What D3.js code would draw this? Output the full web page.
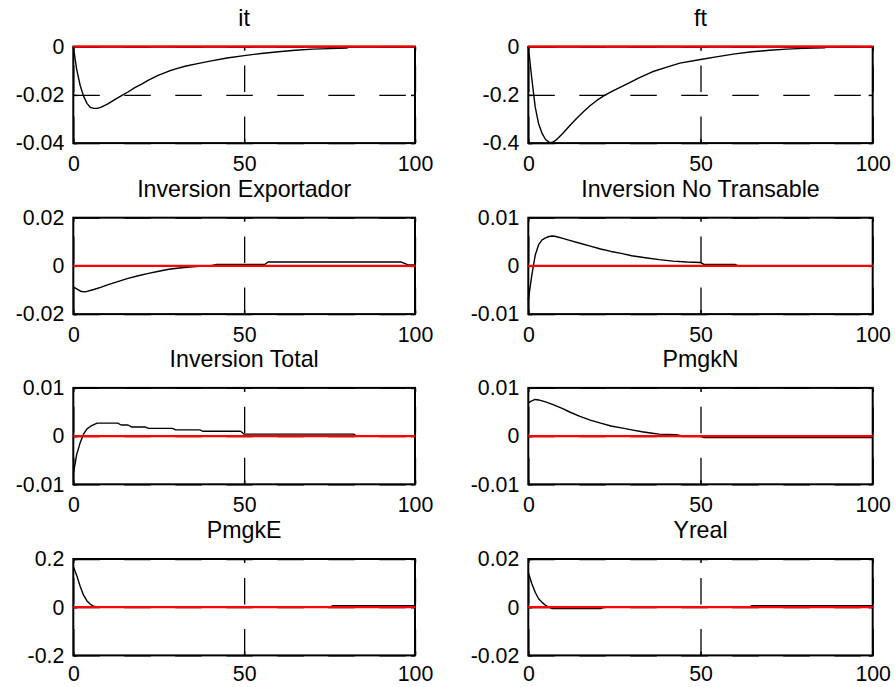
<!DOCTYPE html>
<html>
<head>
<meta charset="utf-8">
<script src="https://cdn.jsdelivr.net/npm/d3@7"></script>
<style>
  html, body { margin: 0; padding: 0; background: #ffffff; }
  svg { display: block; }
  text { font-family: "Liberation Sans", Arial, Helvetica, sans-serif; fill: #000; }
</style>
</head>
<body>
<svg id="chart" width="895" height="687"></svg>
<script>
// Impulse responses, [period, deviation]
const itSeries = [[0,0],[1,-0.0095],[2,-0.0160],[3,-0.0205],[4,-0.0235],[5,-0.0252],[6,-0.0256],[7,-0.0256],[8,-0.0252],[10,-0.0238],[12,-0.0221],[14,-0.0204],[16,-0.0188],[18,-0.0170],[20,-0.0155],[22,-0.0139],[25,-0.0118],[28,-0.0101],[30,-0.0092],[33,-0.0080],[36,-0.0071],[40,-0.0060],[45,-0.0047],[50,-0.0037],[55,-0.0028],[60,-0.0021],[65,-0.0015],[70,-0.0010],[75,-0.0008],[80,-0.0006],[81,0],[100,0]];
const ftSeries = [[0,0],[1,-0.13],[2,-0.25],[3,-0.32],[4,-0.36],[5,-0.385],[6,-0.396],[7,-0.397],[8,-0.388],[10,-0.360],[12,-0.328],[14,-0.298],[16,-0.270],[18,-0.244],[20,-0.222],[22,-0.203],[25,-0.180],[29,-0.152],[32,-0.130],[36,-0.104],[40,-0.086],[44,-0.068],[50,-0.053],[55,-0.041],[60,-0.030],[65,-0.021],[70,-0.015],[75,-0.010],[80,-0.007],[86,-0.005],[87,0],[100,0]];
const invExpSeries = [[0,-0.0087],[1,-0.0095],[2,-0.0104],[3,-0.0108],[4,-0.0106],[6,-0.0098],[8,-0.0089],[10,-0.0079],[13,-0.0065],[16,-0.0052],[19,-0.0041],[22,-0.0031],[25,-0.0022],[28,-0.0014],[31,-0.0009],[34,-0.0005],[37,-0.0002],[40,0],[42,0.0006],[56,0.0006],[57,0.0016],[96,0.0016],[98,0.0004],[100,0.0004]];
const invNoTSeries = [[0,-0.0071],[1,-0.0020],[2,0.0022],[3,0.0044],[4,0.0054],[5,0.0058],[6,0.0061],[7,0.0062],[8,0.0061],[10,0.0057],[12,0.0053],[15,0.0047],[18,0.0041],[21,0.0035],[24,0.0030],[27,0.0026],[30,0.0021],[34,0.0017],[38,0.0013],[42,0.0010],[46,0.0008],[50,0.0007],[51,0.0003],[60,0.0003],[61,0],[100,0]];
const invTotSeries = [[0,-0.0079],[1,-0.0038],[2,-0.0014],[3,0.0004],[4,0.0015],[5,0.0020],[6,0.0024],[7,0.0027],[13,0.0027],[14,0.0023],[16,0.0023],[17,0.0019],[21,0.0019],[22,0.0016],[29,0.0016],[30,0.0013],[37,0.0013],[38,0.0010],[49,0.0010],[50,0.0004],[82,0.0004],[83,0],[100,0]];
const pmgkNSeries = [[0,0.0069],[1,0.0073],[2,0.0076],[3,0.0075],[5,0.0071],[7,0.0066],[10,0.0057],[12,0.0050],[15,0.0041],[18,0.0033],[21,0.0027],[24,0.0021],[27,0.0017],[30,0.0013],[33,0.0009],[36,0.0006],[38,0.0004],[43,0.0003],[45,0],[50,0],[51,-0.0003],[100,-0.0003]];
const pmgkESeries = [[0,0.169],[1,0.132],[2,0.087],[3,0.050],[4,0.026],[5,0.012],[6,0.004],[7,0],[75,0],[76,0.006],[100,0.006]];
const yrealSeries = [[0,0.0144],[1,0.0098],[2,0.0062],[3,0.0035],[4,0.0020],[5,0.0008],[6,0],[7,-0.0006],[21,-0.0006],[22,0],[64,0],[65,0.0006],[100,0.0006]];

const panelTitles = ["it", "ft", "Inversion Exportador", "Inversion No Transable", "Inversion Total", "PmgkN", "PmgkE", "Yreal"];
const panelSeries = [itSeries, ftSeries, invExpSeries, invNoTSeries, invTotSeries, pmgkNSeries, pmgkESeries, yrealSeries];
const panelYTicks = [
  [-0.04, -0.02, 0],
  [-0.4, -0.2, 0],
  [-0.02, 0, 0.02],
  [-0.01, 0, 0.01],
  [-0.01, 0, 0.01],
  [-0.01, 0, 0.01],
  [-0.2, 0, 0.2],
  [-0.02, 0, 0.02]
];
const xTicks = [0, 50, 100];
const xDomain = [0, 100];

// Subplot grid geometry (4 rows x 2 columns)
const colLeft = [73.3, 528.3];
const colWidth = [341.7, 344.4];
const rowTop = [46.7, 217.7, 387.9, 559.0];
const rowHeight = 96.4;
const rowLabelGap = [13, 13, 13, 10.5];

const tickFont = 21.3;
const titleFont = 23.2;
const dash = "26.5,24.5";

const svg = d3.select("#chart");
svg.append("rect").attr("width", 895).attr("height", 687).attr("fill", "#fff");

panelSeries.forEach((series, i) => {
  const col = i % 2, row = Math.floor(i / 2);
  const w = colWidth[col], h = rowHeight;
  const yt = panelYTicks[i];
  const g = svg.append("g").attr("transform", `translate(${colLeft[col]},${rowTop[row]})`);

  const x = d3.scaleLinear().domain(xDomain).range([0, w]);
  const y = d3.scaleLinear().domain([yt[0], yt[yt.length - 1]]).range([h, 0]);

  // dashed grid
  const gridX = g.append("g").attr("transform", `translate(0,${h})`)
    .call(d3.axisBottom(x).tickValues(xTicks).tickSize(-h).tickFormat(""));
  const gridY = g.append("g")
    .call(d3.axisLeft(y).tickValues(yt).tickSize(-w).tickFormat(""));
  [gridX, gridY].forEach(a => {
    a.select(".domain").remove();
    a.selectAll("line").attr("stroke", "#000").attr("stroke-width", 1.3).attr("stroke-dasharray", dash);
  });

  // frame
  g.append("rect").attr("width", w).attr("height", h)
    .attr("fill", "none").attr("stroke", "#000").attr("stroke-width", 2);

  // inward ticks with labels on left and bottom
  const fmt = v => String(v);
  const axB = g.append("g").attr("transform", `translate(0,${h})`)
    .call(d3.axisBottom(x).tickValues(xTicks).tickSize(-4).tickPadding(rowLabelGap[row]).tickFormat(fmt));
  const axL = g.append("g")
    .call(d3.axisLeft(y).tickValues(yt).tickSize(-4).tickPadding(9).tickFormat(fmt));
  const axT = g.append("g")
    .call(d3.axisTop(x).tickValues(xTicks).tickSize(-4).tickFormat(""));
  const axR = g.append("g").attr("transform", `translate(${w},0)`)
    .call(d3.axisRight(y).tickValues(yt).tickSize(-4).tickFormat(""));
  [axB, axL, axT, axR].forEach(a => {
    a.select(".domain").remove();
    a.selectAll("line").attr("stroke", "#000").attr("stroke-width", 1.5);
    a.selectAll("text").attr("font-size", tickFont)
      .attr("font-family", '"Liberation Sans", Arial, sans-serif').attr("fill", "#000");
  });

  // response curve
  const line = d3.line().x(d => x(d[0])).y(d => y(d[1]));
  g.append("path").datum(series).attr("d", line)
    .attr("fill", "none").attr("stroke", "#000").attr("stroke-width", 1.4)
    .attr("stroke-linejoin", "round");

  // steady state reference
  g.append("line").attr("x1", x(xDomain[0])).attr("x2", x(xDomain[1]))
    .attr("y1", y(0)).attr("y2", y(0))
    .attr("stroke", "#ff0000").attr("stroke-width", 2.2);

  // title
  g.append("text").attr("x", w / 2).attr("y", -21)
    .attr("text-anchor", "middle").attr("font-size", titleFont)
    .text(panelTitles[i]);
});
</script>
</body>
</html>
